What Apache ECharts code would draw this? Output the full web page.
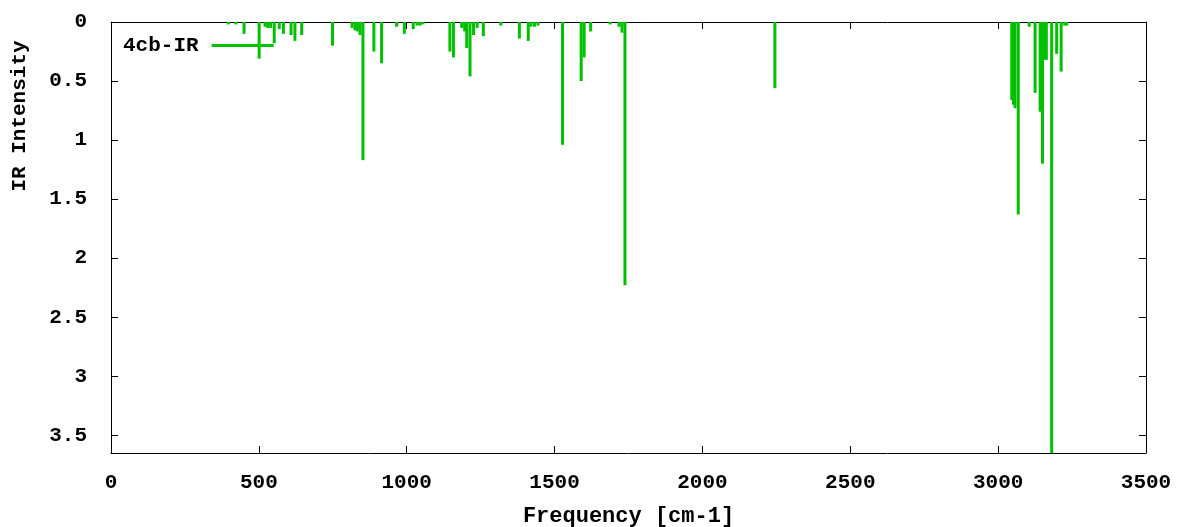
<!DOCTYPE html>
<html>
<head>
<meta charset="utf-8">
<script src="https://cdn.jsdelivr.net/npm/echarts@6/dist/echarts.min.js"></script>
<style>
  html, body { margin: 0; padding: 0; background: #fff; }
  #chart { width: 1179px; height: 527px; }
</style>
</head>
<body>
<div id="chart"></div>
<script>
// Computed IR spectrum: vibrational frequencies (cm-1) and their intensities
const frequencies = [
  397, 422, 450, 501, 521, 530, 540, 552, 569, 583, 609, 622, 645, 749,
  815, 825, 833, 842, 852, 889, 915, 966, 992, 1022, 1035, 1045, 1055,
  1146, 1158, 1186, 1196, 1203, 1214, 1226, 1238, 1259, 1318, 1381, 1411,
  1420, 1432, 1444, 1527, 1590, 1600, 1622, 1688, 1718, 1728, 1738, 2245,
  3046, 3052, 3057, 3068, 3105, 3125, 3142, 3150, 3158, 3163, 3181, 3198,
  3213, 3225, 3232
];
const intensities = [
  0.02, 0.02, 0.10, 0.31, 0.04, 0.05, 0.05, 0.18, 0.06, 0.10, 0.11, 0.16, 0.11, 0.20,
  0.05, 0.07, 0.08, 0.11, 1.17, 0.25, 0.35, 0.04, 0.10, 0.06, 0.03, 0.03, 0.02,
  0.25, 0.30, 0.05, 0.08, 0.22, 0.46, 0.11, 0.05, 0.12, 0.03, 0.14, 0.16,
  0.04, 0.04, 0.03, 1.04, 0.50, 0.30, 0.08, 0.02, 0.04, 0.09, 2.23, 0.56,
  0.66, 0.70, 0.73, 1.63, 0.04, 0.60, 0.76, 1.20, 0.32, 0.32, 3.65, 0.27,
  0.42, 0.03, 0.03
];
const seriesName = '4cb-IR';
const xTicks = [0, 500, 1000, 1500, 2000, 2500, 3000, 3500];
const yTicks = [0, 0.5, 1, 1.5, 2, 2.5, 3, 3.5];

const FONT = '"Liberation Mono", "DejaVu Sans Mono", monospace';
const GREEN = '#00c000';

const points = frequencies.map((f, i) => [f, intensities[i]]);

const chart = echarts.init(document.getElementById('chart'), null, { renderer: 'canvas' });

const labelStyle = { fontFamily: FONT, fontWeight: 'bold', fontSize: 21, color: '#000' };
const tickStyle = { show: true, inside: true, length: 7, lineStyle: { color: '#000', width: 1 } };
const lineStyle = { show: true, onZero: false, lineStyle: { color: '#000', width: 1 } };

function xAxisBase(pos, showLabels) {
  return {
    type: 'value', position: pos, min: xTicks[0], max: xTicks[xTicks.length - 1],
    interval: xTicks[1] - xTicks[0],
    axisLine: lineStyle, axisTick: tickStyle, splitLine: { show: false },
    axisLabel: showLabels ? Object.assign({
      margin: 19,
      formatter: v => String(v)
    }, labelStyle) : { show: false }
  };
}
function yAxisBase(pos, showLabels) {
  return {
    type: 'value', position: pos, inverse: true, min: 0, max: 3.65,
    interval: yTicks[1] - yTicks[0],
    axisLine: lineStyle, axisTick: tickStyle, splitLine: { show: false },
    axisLabel: showLabels ? Object.assign({
      margin: 24, showMaxLabel: false,
      formatter: v => (yTicks.some(t => Math.abs(t - v) < 1e-9) ? String(v) : '')
    }, labelStyle) : { show: false }
  };
}

const xBottom = xAxisBase('bottom', true);
xBottom.name = 'Frequency [cm-1]';
xBottom.nameLocation = 'middle';
xBottom.nameGap = 52;
xBottom.nameTextStyle = { fontFamily: FONT, fontWeight: 'bold', fontSize: 22, color: '#000' };

chart.setOption({
  animation: false,
  backgroundColor: '#fff',
  grid: { left: 111, right: 33, top: 22, bottom: 74, containLabel: false, outerBoundsMode: 'none' },
  xAxis: [xBottom, xAxisBase('top', false)],
  yAxis: [yAxisBase('left', true), yAxisBase('right', false)],
  legend: {
    data: [{ name: seriesName, icon: 'rect' }],
    left: 118, top: 30,
    align: 'right',
    itemWidth: 62, itemHeight: 3,
    textStyle: { fontFamily: FONT, fontWeight: 'bold', fontSize: 21, color: '#000', padding: [0, 8, 0, 0] }
  },
  graphic: [{
    type: 'text',
    x: 20, y: 116,
    rotation: Math.PI / 2,
    style: {
      text: 'IR Intensity',
      font: 'bold 21px ' + FONT,
      fill: '#000',
      align: 'center',
      verticalAlign: 'middle'
    }
  }],
  series: [{
    name: seriesName,
    type: 'custom',
    xAxisIndex: 0, yAxisIndex: 0,
    itemStyle: { color: GREEN },
    encode: { x: 0, y: 1 },
    data: points,
    renderItem: function (params, api) {
      const x = api.value(0);
      const base = api.coord([x, 0]);
      const tip = api.coord([x, api.value(1)]);
      return {
        type: 'line',
        shape: { x1: base[0], y1: base[1], x2: tip[0], y2: tip[1] },
        style: { stroke: GREEN, lineWidth: 3 }
      };
    }
  }]
});
</script>
</body>
</html>
